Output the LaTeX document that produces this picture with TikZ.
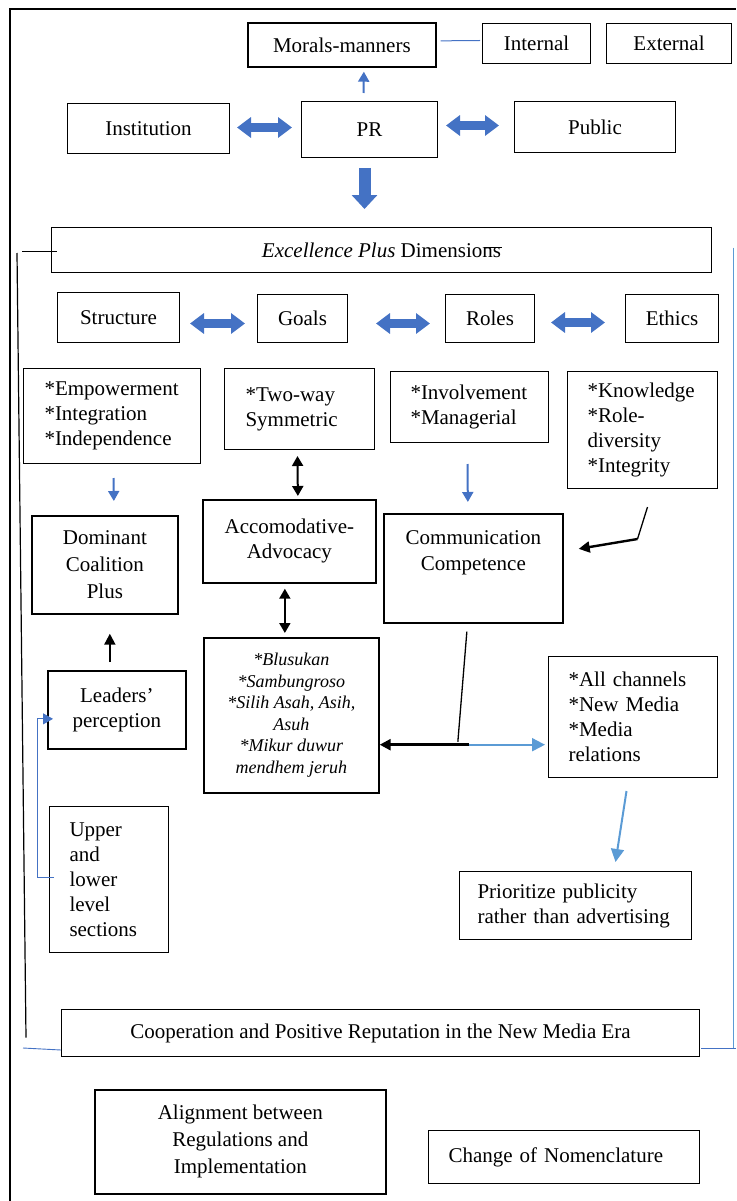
\documentclass[tikz,border=0pt]{standalone}
\usepackage{fontspec}
\setmainfont{Liberation Serif}
\usetikzlibrary{arrows.meta, positioning}
\definecolor{prBlue}{RGB}{68,114,196}
\definecolor{skyBlue}{RGB}{91,155,213}
\newcommand{\bodyfont}{\fontsize{21}{25}\selectfont}
\newcommand{\javafont}{\fontsize{18}{21.5}\selectfont\itshape}

\tikzset{
  box/.style={draw, line width=1pt, anchor=north west, inner sep=0pt,
              font=\bodyfont, align=center},
  thickbox/.style={box, line width=1.7pt},
  leftbox/.style={box, align=left, inner xsep=20pt},
  blockarr/.style={line width=9pt, draw=prBlue,
                   {Triangle[length=14pt,width=20pt]}-{Triangle[length=14pt,width=20pt]}},
  downarr/.style={line width=12pt, draw=prBlue, -{Triangle[length=14pt,width=25pt]}},
  bluearr/.style={line width=2pt, draw=prBlue, -{Triangle[length=10pt,width=11pt]}},
  skyarr/.style={line width=2pt, draw=skyBlue, -{Triangle[length=13pt,width=13pt]}},
  blackarr/.style={line width=2pt, -{Triangle[length=11pt,width=11pt]}},
  dblblack/.style={line width=2pt,
                   {Triangle[length=10pt,width=11pt]}-{Triangle[length=10pt,width=11pt]}}
}

\begin{document}
\begin{tikzpicture}[x=1pt, y=-1pt]
  \useasboundingbox (0,0) rectangle (736,1201);
  % outer frame
  \draw[line width=1.2pt] (10,1201) -- (10,9) -- (736,9);

  % top row
  \node[thickbox, minimum width=188pt, minimum height=44pt] (morals) at (247,22) {Morals-manners};
  \node[box, minimum width=108pt, minimum height=40pt] (internal) at (482,23) {Internal};
  \node[box, minimum width=125pt, minimum height=40pt] (external) at (606,23) {External};
  \node[box, minimum width=162pt, minimum height=50pt] (inst) at (67,103) {Institution};
  \node[box, minimum width=136pt, minimum height=56pt] (pr) at (301,101) {PR};
  \node[box, minimum width=161pt, minimum height=51pt] (public) at (514,101) {Public};

  % dimensions
  \node[box, minimum width=660pt, minimum height=45pt] (excel) at (51,227) {\textit{Excellence Plus} Dimensions};
  \node[box, minimum width=122pt, minimum height=50pt] (structure) at (57,292) {Structure};
  \node[box, minimum width=90pt, minimum height=48pt] (goals) at (257,294) {Goals};
  \node[box, minimum width=89pt, minimum height=48pt] (roles) at (445,294) {Roles};
  \node[box, minimum width=93pt, minimum height=48pt] (ethics) at (625,294) {Ethics};

  % attributes
  \node[leftbox, inner xsep=21pt, text width=135pt, minimum height=95pt] (empower) at (23,368)
    {*Empowerment\\{}*Integration\\{}*Independence};
  \node[leftbox, inner xsep=21pt, text width=108pt, minimum height=81pt] (twoway) at (224,368)
    {*Two-way\\Symmetric};
  \node[leftbox, text width=118pt, minimum height=71pt] (involve) at (390,371)
    {*Involvement\\{}*Managerial};
  \node[leftbox, text width=110pt, minimum height=117pt] (know) at (567,371)
    {*Knowledge\\{}*Role-\\diversity\\{}*Integrity};

  % outcomes
  \node[thickbox, font=\fontsize{21}{27}\selectfont, minimum width=146pt, minimum height=98pt] (dominant) at (31,515)
    {Dominant\\Coalition\\Plus};
  \node[thickbox, minimum width=173pt, minimum height=83pt] (accom) at (202,499)
    {Accomodative-\\Advocacy};
  \node[thickbox, font=\fontsize{21}{26}\selectfont, text depth=35pt, minimum width=179pt, minimum height=109pt] (comm) at (383,513)
    {Communication\\Competence};
  \node[thickbox, minimum width=138pt, minimum height=78pt] (leaders) at (47,670)
    {Leaders’\\perception};
  \node[thickbox, font=\javafont, minimum width=175pt, minimum height=155pt] (blus) at (203,637)
    {*Blusukan\\{}*Sambungroso\\{}*Silih Asah, Asih,\\Asuh\\{}*Mikur duwur\\mendhem jeruh};
  \node[leftbox, text width=129pt, minimum height=121pt] (allch) at (548,656)
    {*All channels\\{}*New Media\\{}*Media\\relations};
  \node[leftbox, text width=79pt, minimum height=146pt] (upper) at (49,806)
    {Upper\\and\\lower\\level\\sections};
  \node[leftbox, inner xsep=18pt, text width=196pt, minimum height=68pt] (prior) at (459,871)
    {Prioritize publicity\\rather than advertising};

  % bottom
  \node[box, minimum width=638pt, minimum height=47pt] (coop) at (61,1009)
    {Cooperation and Positive Reputation in the New Media Era};
  \node[thickbox, font=\fontsize{21}{27}\selectfont, minimum width=291pt, minimum height=104pt] (regul) at (94,1089)
    {Alignment between\\Regulations and\\Implementation};
  \node[leftbox, text width=231pt, minimum height=53pt] (nomen) at (428,1130)
    {Change of Nomenclature};

  % connectors, top part
  \draw[bluearr] ([shift={(-6,-8)}]pr.north) -- ([shift={(22,4)}]morals.south);
  \draw[prBlue, line width=1pt] ([shift={(4,-4)}]morals.east) -- ([shift={(-2,-3)}]internal.west);
  \draw[blockarr] ([shift={(7,-1)}]inst.east) -- ([shift={(-9,-2)}]pr.west);
  \draw[blockarr] ([shift={(8,-4)}]pr.east) -- ([shift={(-15,-1.5)}]public.west);
  \draw[downarr] ([shift={(-5,10)}]pr.south) -- ([shift={(-17,-18)}]excel.north);
  \draw[blockarr] ([shift={(10,6)}]structure.east) -- ([shift={(-12,5)}]goals.west);
  \draw[blockarr] ([shift={(28,5)}]goals.east) -- ([shift={(-15,5)}]roles.west);
  \draw[blockarr] ([shift={(16,4)}]roles.east) -- ([shift={(-20,4)}]ethics.west);

  % connectors, middle part
  \draw[bluearr] ([shift={(1.5,14)}]empower.south) -- ([shift={(9,-14)}]dominant.north);
  \draw[bluearr] ([shift={(-2,21)}]involve.south) -- ([shift={(-5.5,-11)}]comm.north);
  \draw[dblblack] ([shift={(-2,6)}]twoway.south) -- ([shift={(8.5,-3)}]accom.north);
  \draw[dblblack] ([shift={(-4.5,5)}]accom.south) -- ([shift={(-6.5,-4)}]blus.north);
  \draw[blackarr] ([shift={(-7,-8)}]leaders.north) -- ([shift={(5,19)}]dominant.south);
  \draw[line width=1.3pt] ([shift={(5,18)}]know.south) -- ([shift={(-5,50)}]know.south);
  \draw[blackarr, line width=2.4pt] ([shift={(-5,50)}]know.south) -- ([shift={(15,-19.5)}]comm.east);

  \coordinate (junc) at ([shift={(-4.5,121)}]comm.south);
  \draw[line width=1.3pt] ([shift={(-6.5,8)}]comm.south) -- ([shift={(-11,-3)}]junc);
  \draw[blackarr, line width=2.6pt] (junc) -- (junc -| blus.east);
  \draw[skyarr] (junc) -- ([xshift=-3pt]junc -| allch.west);
  \draw[skyarr] ([shift={(-6.5,13)}]allch.south) -- ([shift={(40,-9)}]prior.north);
  \draw[prBlue, line width=1pt, -{Triangle[length=10pt,width=11pt]}]
    ([shift={(5,-2)}]upper.west) -- ++(-17,0) |- ([shift={(6,9)}]leaders.west);

  % side brackets
  \draw[line width=1.2pt] ([shift={(-29,1.5)}]excel.west) -- ([shift={(6,1.5)}]excel.west);
  \draw[line width=1pt] ([shift={(102,-2.5)}]excel.center) -- ([shift={(120,-2.5)}]excel.center);
  \draw[line width=1.2pt] ([shift={(-34,3)}]excel.west) -- ([shift={(-35,4.5)}]coop.west);
  \draw[prBlue, line width=0.9pt] ([shift={(-38,15)}]coop.west) -- ([shift={(0,17)}]coop.west);
  \draw[skyBlue, line width=0.9pt] ([shift={(21,-2.5)}]excel.east) -- ([shift={(33,15.5)}]coop.east);
  \draw[prBlue, line width=0.9pt] ([shift={(1,15.5)}]coop.east) -- ([shift={(36,15.5)}]coop.east);
\end{tikzpicture}
\end{document}
